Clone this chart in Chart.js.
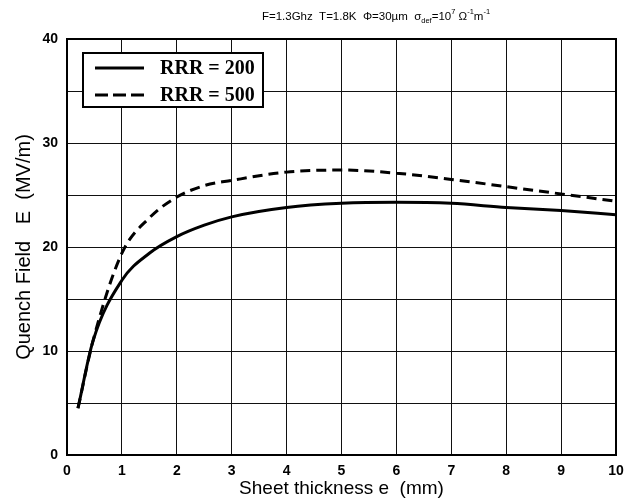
<!DOCTYPE html>
<html>
<head>
<meta charset="utf-8">
<script src="https://cdn.jsdelivr.net/npm/chart.js@4.4.0/dist/chart.umd.min.js"></script>
<style>
  html, body { margin: 0; padding: 0; background: #fff; }
  #wrap { width: 633px; height: 498px; }
</style>
</head>
<body>
<div id="wrap"><canvas id="quenchChart" width="633" height="498"></canvas></div>
<script>
// données
const thickness = [0.2, 0.47, 1, 1.5, 2, 2.5, 3, 4, 5, 6, 7, 8, 9, 10];
const rrr200 = [4.5, 10.9, 16.8, 19.4, 21.0, 22.1, 22.9, 23.8, 24.2, 24.3, 24.2, 23.8, 23.5, 23.1];
const rrr500 = [4.5, 10.9, 19.4, 22.8, 24.8, 25.9, 26.4, 27.2, 27.4, 27.1, 26.5, 25.8, 25.1, 24.4];
const yTicks = [0, 10, 20, 30, 40];
const xTicks = [0, 1, 2, 3, 4, 5, 6, 7, 8, 9, 10];
const seriesNames = ["RRR = 200", "RRR = 500"];

const toPoints = (xs, ys) => xs.map((x, i) => ({ x: x, y: ys[i] }));

// titre avec indices / exposants
const titlePlugin = {
  id: 'titleText',
  afterDraw(chart) {
    const ctx = chart.ctx;
    ctx.save();
    ctx.fillStyle = '#000';
    ctx.textBaseline = 'alphabetic';
    const base = 20;
    const parts = [
      ['F=1.3Ghz  T=1.8K  \u03A6=30\u00B5m  \u03C3', 0, 11.5],
      ['def', 3, 7.5],
      ['=10', 0, 11.5],
      ['7', -6, 7.5],
      [' \u03A9', 0, 11.5],
      ['-1', -6, 7.5],
      ['m', 0, 11.5],
      ['-1', -6, 7.5]
    ];
    let w = 0;
    parts.forEach(p => { ctx.font = p[2] + 'px Arial, "Liberation Sans"'; w += ctx.measureText(p[0]).width; });
    let x = 376 - w / 2;
    parts.forEach(p => {
      ctx.font = p[2] + 'px Arial, "Liberation Sans"';
      ctx.fillText(p[0], x, base + p[1]);
      x += ctx.measureText(p[0]).width;
    });
    ctx.restore();
  }
};

// cadre épais + légende encadrée
const legendPlugin = {
  id: 'boxLegend',
  afterDraw(chart) {
    const ctx = chart.ctx;
    const a = chart.chartArea;
    ctx.save();
    ctx.lineWidth = 2;
    ctx.strokeStyle = '#000';
    ctx.strokeRect(a.left, a.top, a.right - a.left, a.bottom - a.top);

    const left = 83, top = 53, w = 180, h = 54;
    ctx.fillStyle = '#fff';
    ctx.fillRect(left, top, w, h);
    ctx.strokeRect(left, top, w, h);
    ctx.font = 'bold 20px "Liberation Serif", "DejaVu Serif", serif';
    ctx.textBaseline = 'middle';
    chart.data.datasets.forEach((ds, i) => {
      const y = top + 15 + i * 27;
      ctx.lineWidth = 3;
      ctx.setLineDash(ds.borderDash ? [13, 5] : []);
      ctx.beginPath();
      ctx.moveTo(left + 12, y);
      ctx.lineTo(left + 61, y);
      ctx.stroke();
      ctx.setLineDash([]);
      ctx.fillStyle = '#000';
      ctx.fillText(ds.label, left + 77, y + 1);
    });
    ctx.restore();
  }
};

new Chart(document.getElementById('quenchChart'), {
  type: 'line',
  data: {
    datasets: [{
      label: seriesNames[0],
      data: toPoints(thickness, rrr200),
      borderColor: '#000',
      borderWidth: 3,
      pointRadius: 0,
      fill: false,
      cubicInterpolationMode: 'monotone'
    },
    {
      label: seriesNames[1],
      data: toPoints(thickness, rrr500),
      borderColor: '#000',
      borderWidth: 3,
      borderDash: [10, 6],
      pointRadius: 0,
      fill: false,
      cubicInterpolationMode: 'monotone'
    }]
  },
  options: {
    responsive: false,
    animation: false,
    layout: { padding: { top: 39, right: 17, left: 0, bottom: 0 } },
    plugins: {
      legend: { display: false },
      tooltip: { enabled: false }
    },
    scales: {
      x: {
        type: 'linear',
        min: 0, max: 10,
        afterFit: s => { s.height = 43; },
        afterBuildTicks: s => { s.ticks = xTicks.map(v => ({ value: v })); },
        grid: { color: '#111', lineWidth: 1, drawTicks: false },
        border: { color: '#000', width: 2 },
        ticks: { color: '#000', padding: 8, font: { family: 'Arial, "Liberation Sans"', size: 14, weight: 'bold' } },
        title: { display: true, text: 'Sheet thickness e  (mm)', color: '#000', padding: { top: 0, bottom: -2 }, font: { family: 'Arial, "Liberation Sans"', size: 19 } }
      },
      y: {
        min: 0, max: 40,
        afterFit: s => { s.width = 67; },
        ticks: {
          stepSize: 5,
          color: '#000',
          padding: 9,
          font: { family: 'Arial, "Liberation Sans"', size: 14, weight: 'bold' },
          callback: v => yTicks.includes(v) ? v : ''
        },
        grid: { color: '#111', lineWidth: 1, drawTicks: false },
        border: { color: '#000', width: 2 },
        title: { display: true, text: 'Quench Field   E  (MV/m)', color: '#000', padding: { top: 12, bottom: 0 }, font: { family: 'Arial, "Liberation Sans"', size: 20 } }
      }
    }
  },
  plugins: [titlePlugin, legendPlugin]
});
</script>
</body>
</html>
